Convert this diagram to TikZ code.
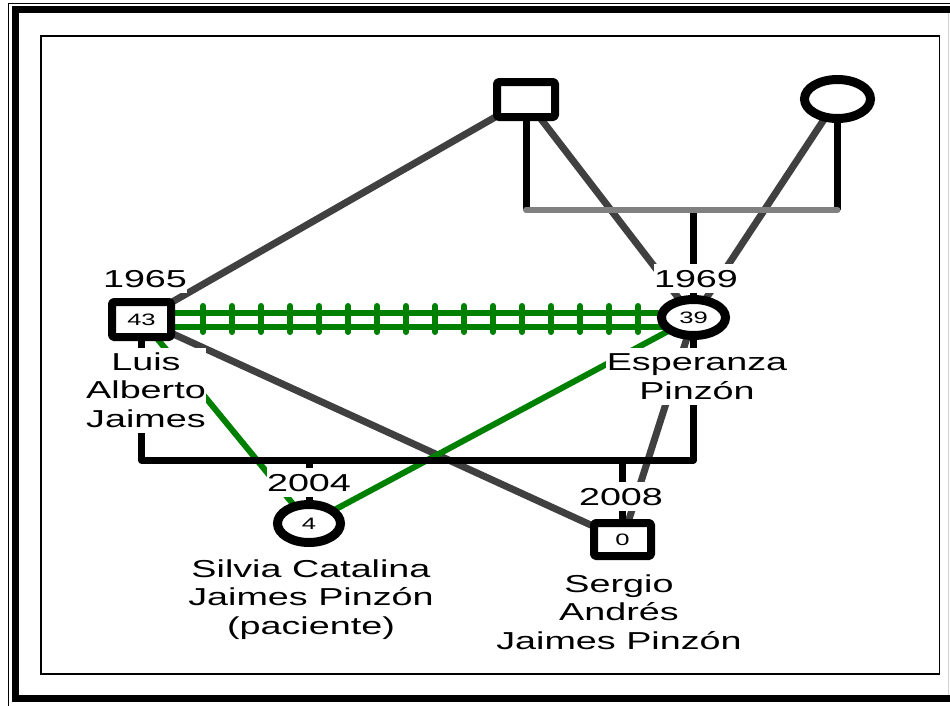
\documentclass[tikz,border=0pt]{standalone}
\usepackage{fontspec}
\setmainfont{Liberation Sans}
\usepackage{graphicx}
\usetikzlibrary{shapes.geometric}
\pgfdeclarelayer{bg}
\pgfsetlayers{bg,main}
\definecolor{kinGreen}{RGB}{0,128,0}
\definecolor{linkGrey}{RGB}{64,64,64}
\definecolor{sibGrey}{RGB}{128,128,128}
% wide Arial-like lettering with a full line-height strut
\newcommand{\wide}[1]{\scalebox{1.54}[1]{\rule[-0.212em]{0pt}{1.117em}#1}}
\newcommand{\agesx}[1]{\scalebox{1.55}[1]{#1}}
\begin{document}
\begin{tikzpicture}[x=1pt,y=-1pt,
  male/.style={draw, line width=8pt, fill=white, inner sep=0pt,
    rounded corners=1.5pt, line join=round, font=\fontsize{16.5}{18}\selectfont},
  female/.style={ellipse, draw, line width=9pt, fill=white, inner sep=0pt,
    font=\fontsize{16.5}{18}\selectfont},
  lbl/.style={fill=white, inner sep=0.5pt, align=center,
    font=\fontsize{24.5}{28.5}\selectfont},
  link/.style={draw=linkGrey, line width=7pt},
  kin/.style={draw=kinGreen, line width=6pt},
  fam/.style={draw=black, line width=7pt, line join=round},
  sib/.style={draw=sibGrey, line width=6pt, line cap=round}]
\useasboundingbox (0,0) rectangle (950,705);

% people
\node[male, minimum width=58pt, minimum height=35pt] (P) at (526,99.5) {};
\node[female, minimum width=66pt, minimum height=39pt] (M) at (837.5,99) {};
\node[male, minimum width=59pt, minimum height=35pt] (L) at (141.5,319.5) {\agesx{43}};
\node[female, minimum width=64pt, minimum height=36pt] (E) at (693.5,317.5) {\agesx{39}};
\node[female, minimum width=63pt, minimum height=38pt] (S) at (309,523.5) {\agesx{4}};
\node[male, minimum width=57pt, minimum height=33pt] (G) at (622.5,539.5) {\agesx{0}};

% years and names
\node[lbl, anchor=base] (yL) at (145,287) {\wide{1965}};
\node[lbl, anchor=base] (yE) at (696,287) {\wide{1969}};
\node[lbl, anchor=base] (yS) at (309,491) {\wide{2004}};
\node[lbl, anchor=base] (yG) at (621,505) {\wide{2008}};
\node[lbl, anchor=north] (nL) at (146,347.3) {\wide{Luis}\\\wide{Alberto}\\\wide{Jaimes}};
\node[lbl, anchor=north] (nE) at (697,348) {\wide{Esperanza}\\\wide{Pinzón}};
\node[lbl, anchor=north] (nS) at (311,554.3) {\wide{Silvia Catalina}\\\wide{Jaimes Pinzón}\\\wide{(paciente)}};
\node[lbl, anchor=north] (nG) at (619,569.3) {\wide{Sergio}\\\wide{Andrés}\\\wide{Jaimes Pinzón}};

\coordinate (sibY) at (0,210);
\coordinate (famY) at (0,460);
\coordinate (mA) at (0,312.5);
\coordinate (mB) at (0,327);

\begin{pgfonlayer}{bg}
  % frames
  \draw[line width=1.3pt] (8.5,720) -- (8.5,3.3) -- (980,3.3);
  \draw[line width=7pt] (980,9.5) -- (15,9.5) -- (15,698.5) -- (980,698.5);
  \draw[gray!35, line width=1.2pt] (948.5,13) -- (948.5,695);
  \draw[line width=1.5pt] (41,36) rectangle (939.5,674);

  % grey links
  \draw[link] (L.center) -- (P.center);
  \draw[link] (L.center) -- (G.center);
  \draw[link] (P.center) -- (E.center);
  \draw[link] (M.center) -- (E.center);
  \draw[link] (E.center) -- (G.center);

  % green links
  \draw[kin] (L.center) -- (S.center);
  \draw[kin] (E.center) -- (S.center);
  \draw[kin] (L |- mA) -- (E |- mA);
  \draw[kin] (L |- mB) -- (E |- mB);
  \foreach \i in {0,...,15}
    \draw[kin, line cap=round] (203+29*\i,306) -- (203+29*\i,332);

  % family lines
  \draw[fam] (P) -- (P |- sibY);
  \draw[fam] (M) -- (M |- sibY);
  \draw[fam] (E |- sibY) -- (E);
  \draw[fam] (L) -- (L |- famY) -- (E |- famY) -- (E);
  \draw[fam] (S |- famY) -- (S);
  \draw[fam] (G |- famY) -- (G);
  \draw[sib] (P |- sibY) -- (M |- sibY);
\end{pgfonlayer}
\end{tikzpicture}
\end{document}
